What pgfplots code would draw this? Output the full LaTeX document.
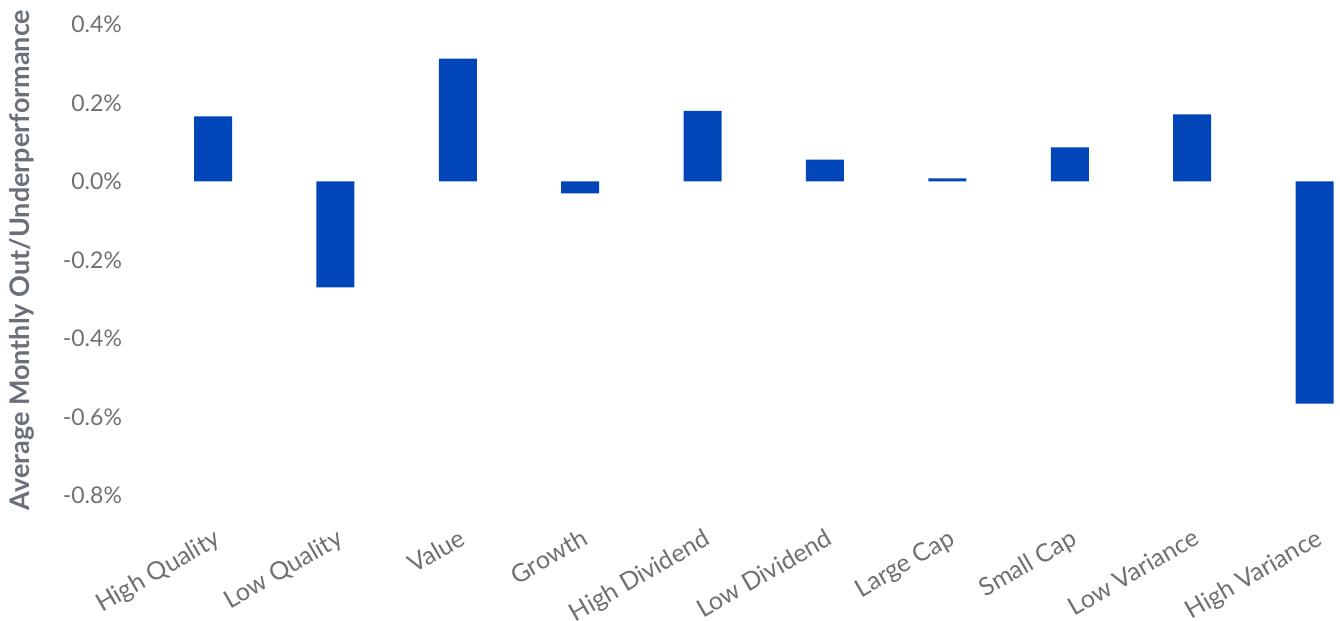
\documentclass[border=0pt]{standalone}
\usepackage{fontspec}
\setmainfont{Lato}
\usepackage{pgfplots}
\pgfplotsset{compat=1.18}

\definecolor{barblue}{HTML}{0046B8}
\definecolor{ticktext}{HTML}{707070}
\definecolor{labeltext}{HTML}{6A707A}

\begin{document}
\begin{tikzpicture}
% fixed page size: 1 px of the reference = 0.5pt
\path[use as bounding box] (-66pt,-58.5pt) rectangle (604pt,252pt);
\begin{axis}[
    at={(0,0)}, anchor=south west,
    scale only axis,
    width=604pt, height=244pt,
    ybar, bar width=19pt,
    xmin=-0.662, xmax=9.208,
    ymin=-0.8217, ymax=0.4217,
    xtick={0,...,9},
    xticklabels={High Quality,Low Quality,Value,Growth,High Dividend,Low Dividend,Large Cap,Small Cap,Low Variance,High Variance},
    ytick={-0.8,-0.6,-0.4,-0.2,0,0.2,0.4},
    yticklabels={-0.8\%,-0.6\%,-0.4\%,-0.2\%,0.0\%,0.2\%,0.4\%},
    axis line style={draw=none},
    major tick length=0pt,
    tick label style={text=ticktext},
    yticklabel style={font=\fontsize{11.5}{13}\selectfont, xshift=-1.5pt},
    xticklabel style={font=\fontsize{12.5}{14}\selectfont, rotate=30, anchor=north east, inner sep=0pt},
    xticklabel shift=11.5pt,
    ylabel={Average Monthly Out/Underperformance},
    ylabel style={at={(axis description cs:-0.0911,0.5)}, anchor=center,
        font=\fontsize{13.5}{15}\selectfont\bfseries, text=labeltext},
]
\addplot[fill=barblue, draw=none] coordinates {
    (0, 0.166)
    (1, -0.270)
    (2, 0.313)
    (3, -0.030)
    (4, 0.180)
    (5, 0.056)
    (6, 0.008)
    (7, 0.087)
    (8, 0.171)
    (9, -0.566)
};
\end{axis}
\end{tikzpicture}
\end{document}
